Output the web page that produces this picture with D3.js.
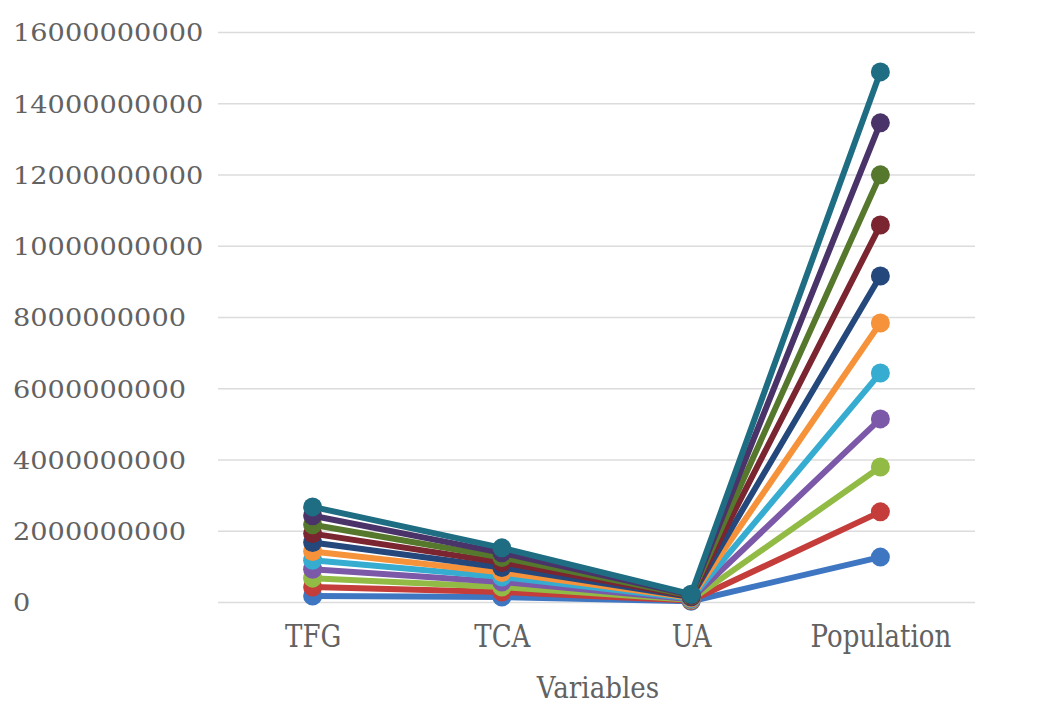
<!DOCTYPE html>
<html>
<head>
<meta charset="utf-8">
<script src="https://cdn.jsdelivr.net/npm/d3@7"></script>
<style>
  html, body { margin: 0; padding: 0; background: #ffffff; }
  svg { display: block; }
  text { font-family: "DejaVu Serif", "Liberation Serif", serif; fill: #626262; }
</style>
</head>
<body>
<svg id="chart" width="1047" height="708"></svg>
<script>
// Categories along the x axis
const categories = ["TFG", "TCA", "UA", "Population"];

// One value per series for each variable (11 series)
const tfgValues = [0.17e9, 0.42e9, 0.67e9, 0.92e9, 1.17e9, 1.42e9, 1.67e9, 1.92e9, 2.17e9, 2.42e9, 2.67e9];
const tcaValues = [0.14e9, 0.28e9, 0.42e9, 0.56e9, 0.70e9, 0.83e9, 0.97e9, 1.11e9, 1.25e9, 1.38e9, 1.52e9];
const uaValues  = [0.02e9, 0.04e9, 0.06e9, 0.08e9, 0.10e9, 0.12e9, 0.14e9, 0.16e9, 0.18e9, 0.20e9, 0.22e9];
const populationValues = [1.26e9, 2.53e9, 3.79e9, 5.14e9, 6.43e9, 7.83e9, 9.15e9, 10.58e9, 11.99e9, 13.45e9, 14.88e9];

// Y axis ticks
const yTicks = [0, 2e9, 4e9, 6e9, 8e9, 10e9, 12e9, 14e9, 16e9];

// Series colours
const seriesColors = ["#3f76c2", "#c43d3a", "#91bb45", "#7c58a8", "#35acd0", "#f5923a",
                      "#24487c", "#7a2530", "#56782c", "#4a3368", "#1f6d82"];

const series = tfgValues.map((_, i) => ({
  color: seriesColors[i],
  values: [tfgValues[i], tcaValues[i], uaValues[i], populationValues[i]]
}));

const svg = d3.select("#chart");
const plotLeft = 218, plotRight = 975, plotTop = 32, plotBottom = 602;

const x = d3.scalePoint().domain(categories).range([plotLeft, plotRight]).padding(0.5);
const y = d3.scaleLinear().domain([0, 16e9]).range([plotBottom, plotTop]);

// Gridlines + y tick labels
const yAxis = svg.append("g")
  .attr("transform", `translate(${plotLeft},0)`)
  .call(d3.axisLeft(y).tickValues(yTicks).tickFormat(d3.format("d")).tickSize(-(plotRight - plotLeft)));
yAxis.select(".domain").remove();
yAxis.selectAll(".tick line").attr("stroke", "#dcdcdc").attr("stroke-width", 1.5);
yAxis.selectAll(".tick text")
  .attr("x", 13 - plotLeft)
  .attr("dy", "0.36em")
  .attr("text-anchor", "start")
  .style("font-size", "24.5px")
  .attr("textLength", function () { return this.textContent.length * 17.3; })
  .attr("lengthAdjust", "spacingAndGlyphs");

// X category labels
const xAxis = svg.append("g")
  .attr("transform", `translate(0,${plotBottom})`)
  .call(d3.axisBottom(x).tickSize(0));
xAxis.select(".domain").remove();
xAxis.selectAll(".tick text")
  .attr("y", 0)
  .attr("dy", 45)
  .style("font-size", "31px")
  .each(function () {
    const w = this.getComputedTextLength();
    d3.select(this).attr("textLength", w * 0.84).attr("lengthAdjust", "spacingAndGlyphs");
  });

// Axis title
const title = svg.append("text")
  .attr("x", 598)
  .attr("y", 698)
  .attr("text-anchor", "middle")
  .style("font-size", "30px")
  .text("Variables");
title.attr("textLength", title.node().getComputedTextLength() * 0.87).attr("lengthAdjust", "spacingAndGlyphs");

// Lines with markers
const line = d3.line()
  .x((d, i) => x(categories[i]))
  .y(d => y(d));

const seriesG = svg.append("g")
  .selectAll("g")
  .data(series)
  .join("g");

seriesG.append("path")
  .attr("d", d => line(d.values))
  .attr("fill", "none")
  .attr("stroke", d => d.color)
  .attr("stroke-width", 6)
  .attr("stroke-linejoin", "round")
  .attr("stroke-linecap", "round");

seriesG.selectAll("circle")
  .data(d => d.values.map((v, i) => ({ v, i, color: d.color })))
  .join("circle")
  .attr("cx", d => x(categories[d.i]))
  .attr("cy", d => y(d.v))
  .attr("r", 9.5)
  .attr("fill", d => d.color);
</script>
</body>
</html>
